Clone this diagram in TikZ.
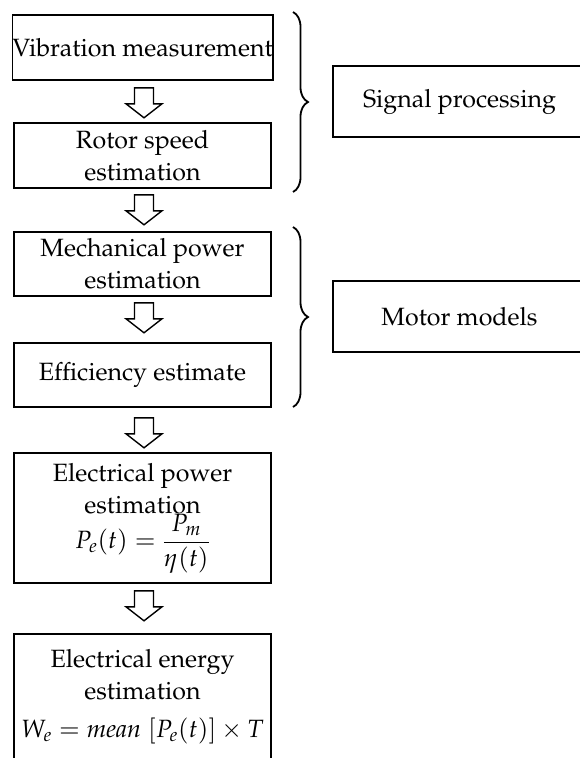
\documentclass[tikz,border=0pt]{standalone}
\usepackage[T1]{fontenc}
\usepackage{mathpazo}
\usetikzlibrary{decorations.pathreplacing,calc}
\newcommand{\blkarrow}[1]{\draw[blk] ($(#1)+(-9.5,0)$) -- ++(0,16) -- ++(-8.5,0) -- ++(18,14) -- ++(18,-14) -- ++(-8.5,0) -- ++(0,-16) -- cycle;}
\begin{document}
\begin{tikzpicture}[x=1pt,y=-1pt,
  box/.style={draw, line width=1.6pt, minimum width=257pt, inner sep=0pt, align=center, font=\fontsize{25}{32}\selectfont},
  sbox/.style={box, minimum width=253pt, minimum height=71pt},
  txt/.style={inner sep=0pt, align=center, font=\fontsize{25}{32}\selectfont},
  blk/.style={draw, line width=1.4pt, fill=white, line join=miter},
  brc/.style={decorate, decoration={brace, amplitude=15pt}, line width=1.8pt}]
\useasboundingbox (0,0) rectangle (579,758);
\node[box, minimum height=65pt] (b1) at (142.5,47.5) {Vibration measurement};
\node[box, minimum height=65pt] (b2) at (142.5,155.5) {Rotor speed\\estimation};
\node[box, minimum height=64pt] (b3) at (142.5,264) {Mechanical power\\estimation};
\node[box, minimum height=64pt] (b4) at (142.5,375) {Efficiency estimate};
\node[box, minimum height=130pt] (b5) at (142.5,518) {};
\node[txt] (t5) at (b5.center) {Electrical power\\estimation\\[0pt]$\displaystyle P_e(t)=\frac{P_m}{\eta(t)}$};
\node[box, minimum height=170pt, anchor=north] (b6) at (142.5,633) {};
\node[txt, anchor=north] (t6) at ($(b6.north)+(0,16)$) {Electrical energy\\estimation\\[6pt]$W_e=\textit{mean}\;[P_e(t)]\times T$};
\node[sbox] (sp) at (459.5,101.5) {Signal processing};
\node[sbox] (mm) at (459.5,316.5) {Motor models};
\coordinate (a1) at ($(b1.south)+(1.5,7)$);
\coordinate (a2) at ($(b2.south)+(1.5,6)$);
\coordinate (a3) at ($(b3.south)+(1.5,6)$);
\coordinate (a4) at ($(b4.south)+(1.5,10)$);
\coordinate (a5) at ($(b5.south)+(1.5,7)$);
\blkarrow{a1}
\blkarrow{a2}
\blkarrow{a3}
\blkarrow{a4}
\blkarrow{a5}
\coordinate (br1t) at (293,12);
\coordinate (br1b) at (293,192);
\coordinate (br2t) at (293,227);
\coordinate (br2b) at (293,407);
\draw[brc] (br1t) -- (br1b);
\draw[brc] (br2t) -- (br2b);
\end{tikzpicture}
\end{document}
